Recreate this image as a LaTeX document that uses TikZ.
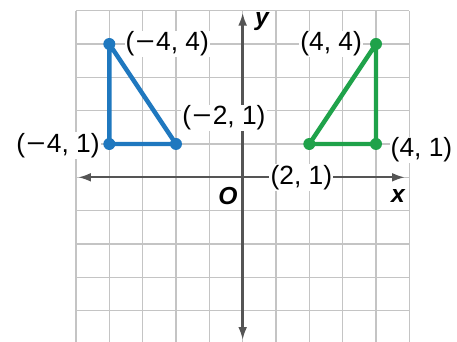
\documentclass[tikz,border=0pt]{standalone}
\usepackage{graphicx}
\usepackage{fontspec}
\setmainfont{Liberation Sans}
\usetikzlibrary{arrows.meta}
\definecolor{tblue}{HTML}{1F78BF}
\definecolor{tgreen}{HTML}{1FA24A}
\definecolor{axisgray}{HTML}{555555}
\definecolor{gridgray}{HTML}{C4C4C4}
\newcommand{\mns}{\kern1pt\scalebox{1.25}[1]{−}\kern1pt}
\begin{document}
\begin{tikzpicture}[
  gridline/.style={draw=gridgray, line width=1.4pt},
  axisline/.style={draw=axisgray, line width=2pt, {Latex[length=11pt,width=7.5pt]}-{Latex[length=11pt,width=7.5pt]}},
  lbl/.style={fill=white, inner sep=1pt, font=\fontsize{22.5}{26}\selectfont},
  axlbl/.style={inner sep=0pt, font=\fontsize{21}{24}\selectfont\bfseries\itshape},
  bluetri/.style={draw=tblue, line width=3.8pt, line join=round},
  greentri/.style={draw=tgreen, line width=3.8pt, line join=round},
  bluedot/.style={fill=tblue},
  greendot/.style={fill=tgreen},
]
\useasboundingbox (-7.28,-4.94) rectangle (6.43,5.32);
\clip (-7.28,-4.94) rectangle (6.43,5.32);
\draw[gridline] (-5,-5) grid (5,5);
% axes
\coordinate (xl) at (-4.94,0);
\coordinate (xr) at (4.87,0);
\coordinate (yb) at (0,-4.88);
\coordinate (yt) at (0,4.94);
\draw[axisline] (xl) -- (xr);
\draw[axisline] (yb) -- (yt);
% points
\coordinate (A1) at (-4,4);
\coordinate (A2) at (-4,1);
\coordinate (A3) at (-2,1);
\coordinate (B1) at (4,4);
\coordinate (B2) at (4,1);
\coordinate (B3) at (2,1);
% labels
\node[lbl, anchor=west] (LA1) at (-3.55,4) {(\mns4, 4)};
\node[lbl, anchor=east] (LA2) at (-4.25,0.95) {(\mns4, 1)};
\node[lbl, anchor=west] (LA3) at (-1.85,1.78) {(\mns2, 1)};
\node[lbl, anchor=east] (LB1) at (3.62,4) {(4, 4)};
\node[lbl, anchor=west] (LB2) at (4.4,0.82) {(4, 1)};
\node[lbl] (LB3) at (1.76,0) {(2, 1)};
\node[axlbl] (O) at (-0.44,-0.56) {O};
\node[axlbl] (ylab) at (0.58,4.66) {y};
\node[axlbl] (xlab) at (4.66,-0.56) {x};
% triangles
\draw[bluetri] (A1) -- (A2) -- (A3) -- cycle;
\draw[greentri] (B1) -- (B2) -- (B3) -- cycle;
\foreach \p in {A1,A2,A3} \fill[bluedot] (\p) circle (0.18);
\foreach \p in {B1,B2,B3} \fill[greendot] (\p) circle (0.18);
\end{tikzpicture}
\end{document}
